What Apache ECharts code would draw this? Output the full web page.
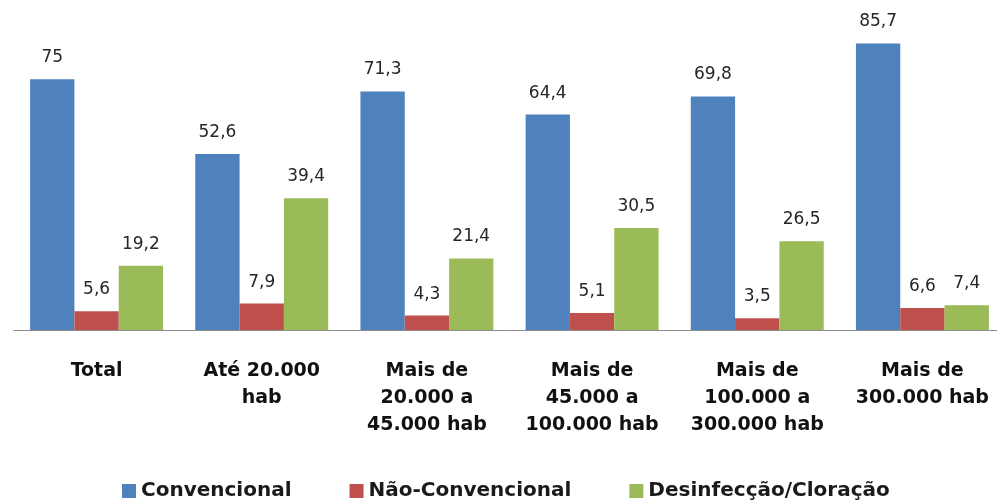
<!DOCTYPE html>
<html>
<head>
<meta charset="utf-8">
<script src="https://cdn.jsdelivr.net/npm/echarts@6/dist/echarts.min.js"></script>
<style>
  html, body { margin: 0; padding: 0; background: #fff; overflow: hidden; }
  #chart { width: 1012px; height: 502px; }
</style>
</head>
<body>
<div id="chart"></div>
<script>
const categories = [
  "Total",
  "Até 20.000\nhab",
  "Mais de\n20.000 a\n45.000 hab",
  "Mais de\n45.000 a\n100.000 hab",
  "Mais de\n100.000 a\n300.000 hab",
  "Mais de\n300.000 hab"
];
const convencional = [75, 52.6, 71.3, 64.4, 69.8, 85.7];
const naoConvencional = [5.6, 7.9, 4.3, 5.1, 3.5, 6.6];
const desinfeccao = [19.2, 39.4, 21.4, 30.5, 26.5, 7.4];
const seriesNames = ["Convencional", "Não-Convencional", "Desinfecção/Cloração"];
const colors = ["#4F81BD", "#C0504D", "#9BBB59"];

const fmt = p => String(p.value).replace('.', ',');
const labelStyle = {
  show: true,
  position: 'top',
  distance: 13,
  formatter: fmt,
  fontFamily: 'DejaVu Sans',
  fontSize: 17,
  color: '#262626'
};

const chart = echarts.init(document.getElementById('chart'), null, { renderer: 'canvas' });
chart.setOption({
  animation: false,
  backgroundColor: '#ffffff',
  color: colors,
  grid: { left: 14, width: 991, top: 29, height: 301, containLabel: false },
  legend: {
    data: seriesNames,
    left: 117,
    top: 476,
    itemWidth: 14,
    itemHeight: 14,
    itemGap: 58,
    icon: 'rect',
    textStyle: { fontFamily: 'DejaVu Sans', fontSize: 20, fontWeight: 'bold', color: '#1a1a1a' }
  },
  xAxis: {
    type: 'category',
    data: categories,
    axisLine: { show: true, lineStyle: { color: '#8c8c8c', width: 1 } },
    axisTick: { show: false },
    axisLabel: {
      interval: 0,
      margin: 28,
      fontFamily: 'DejaVu Sans',
      fontSize: 19,
      fontWeight: 'bold',
      lineHeight: 27,
      color: '#111111',
      align: 'center'
    }
  },
  yAxis: {
    type: 'value',
    min: 0,
    max: 90,
    show: false,
    splitLine: { show: false }
  },
  series: [
    { name: seriesNames[0], type: 'bar', data: convencional, barGap: '0%', barCategoryGap: '19.5%', label: labelStyle },
    { name: seriesNames[1], type: 'bar', data: naoConvencional, barGap: '0%', barCategoryGap: '19.5%', label: labelStyle },
    { name: seriesNames[2], type: 'bar', data: desinfeccao, barGap: '0%', barCategoryGap: '19.5%', label: labelStyle }
  ]
});
</script>
</body>
</html>
